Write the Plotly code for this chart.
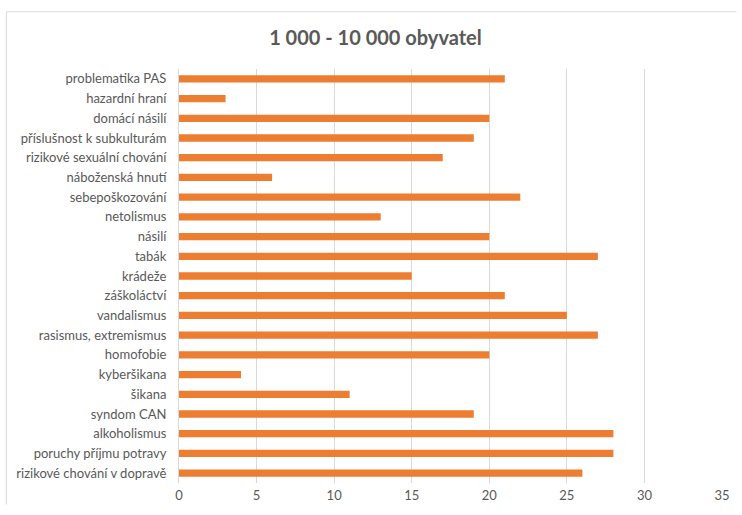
import plotly.graph_objects as go

categories = [
    "problematika PAS", "hazardní hraní", "domácí násilí", "příslušnost k subkulturám",
    "rizikové sexuální chování", "náboženská hnutí", "sebepoškozování", "netolismus",
    "násilí", "tabák", "krádeže", "záškoláctví", "vandalismus", "rasismus, extremismus",
    "homofobie", "kyberšikana", "šikana", "syndom CAN", "alkoholismus",
    "poruchy příjmu potravy", "rizikové chování v dopravě",
]
values = [21, 3, 20, 19, 17, 6, 22, 13, 20, 27, 15, 21, 25, 27, 20, 4, 11, 19, 28, 28, 26]
x_ticks = [0, 5, 10, 15, 20, 25, 30, 35]
title_text = "1 000 - 10 000 obyvatel"

W, H = 742, 515
L, R, T, B = 179.3, 14.5, 69.0, 23.0
pw, ph = W - L - R, H - T - B

fig = go.Figure(go.Bar(
    y=categories[::-1], x=values[::-1], orientation="h",
    marker=dict(color="#ED7D31", line=dict(width=0)),
    hoverinfo="x+y",
))

def px_to_paper_x(px):
    return (px - L) / pw

def py_to_paper_y(py):
    return (H - B - py) / ph

# chart-area frame (only top and left edges are inside the picture)
fig.add_shape(type="line", xref="paper", yref="paper",
              x0=px_to_paper_x(5), x1=px_to_paper_x(W), y0=py_to_paper_y(10.5), y1=py_to_paper_y(10.5),
              line=dict(color="#D9D9D9", width=1), layer="below")
fig.add_shape(type="line", xref="paper", yref="paper",
              x0=px_to_paper_x(5), x1=px_to_paper_x(5), y0=py_to_paper_y(10.5), y1=py_to_paper_y(H - 1),
              line=dict(color="#D9D9D9", width=1), layer="below")

fig.update_layout(
    width=W, height=H,
    margin=dict(l=L, r=R, t=T, b=B, pad=0),
    paper_bgcolor="white", plot_bgcolor="white",
    bargap=0.63,
    showlegend=False,
    font=dict(family="Lato, 'Open Sans', sans-serif", size=13, color="#595959"),
    title=dict(text="<b>" + title_text + "</b>", x=0.506, xref="container", xanchor="center",
               y=(H - 38) / H, yref="container", yanchor="middle",
               font=dict(family="Lato, 'Open Sans', sans-serif", size=20, color="#595959")),
    xaxis=dict(range=[0, 35], tickvals=x_ticks, showgrid=True, gridcolor="#D9D9D9", gridwidth=1,
               zeroline=False, showline=False, ticks="", ticklabelstandoff=3,
               tickfont=dict(size=13, color="#595959"), fixedrange=True),
    yaxis=dict(showgrid=False, zeroline=False, showline=True, linecolor="#D9D9D9", linewidth=1,
               ticks="", ticklabelstandoff=9, tickfont=dict(size=13, color="#595959"),
               fixedrange=True),
)

js = (
    "var s='margin:0;padding:0;overflow:hidden;';"
    "document.documentElement.style.cssText+=s;document.body.style.cssText+=s;"
)
fig.write_html("out.html", config={"displayModeBar": False}, post_script=js)
